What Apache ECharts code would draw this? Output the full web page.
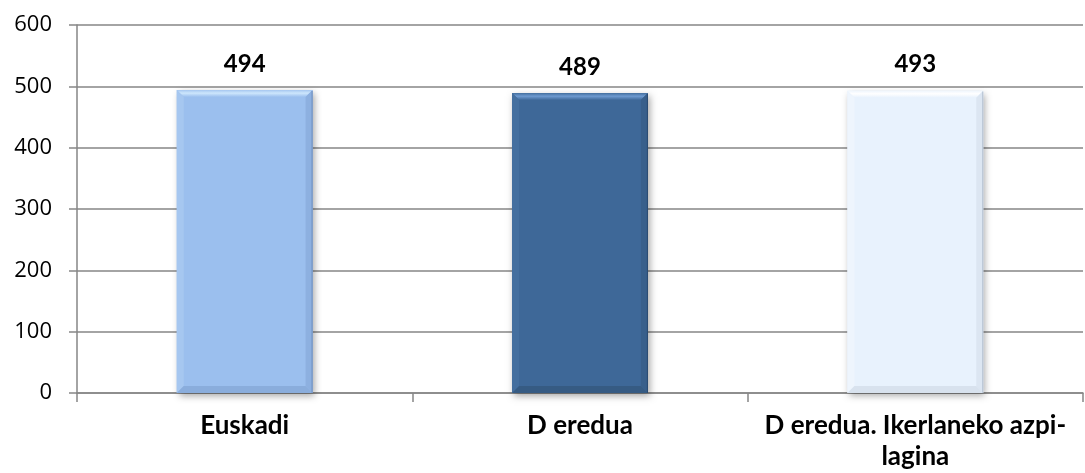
<!DOCTYPE html>
<html>
<head>
<meta charset="utf-8">
<script src="https://cdn.jsdelivr.net/npm/echarts@6/dist/echarts.min.js"></script>
<style>
  html, body { margin: 0; padding: 0; background: #fff; }
  #chart { width: 1085px; height: 473px; }
</style>
</head>
<body>
<div id="chart"></div>
<script>
// Categories and values
const categories = ['Euskadi', 'D eredua', 'D eredua. Ikerlaneko azpi-\nlagina'];
const values = [494, 489, 493];
const yTicks = [0, 100, 200, 300, 400, 500, 600];

// Bevelled bar palette: base, top/left highlight, right/bottom shade
const barColors = [
  { base: '#9BBFEE', light: '#CDE6FC', lightSide: '#A6C7F0', dark: '#8AADDC', darkSide: '#8DB0E0', edge: '#6F8FBC' },
  { base: '#3E6898', light: '#6E9AD0', lightSide: '#446F9F', dark: '#365B83', darkSide: '#385F8B', edge: '#2A4A70' },
  { base: '#E8F2FD', light: '#FFFFFF', lightSide: '#EEF5FD', dark: '#D8E2EE', darkSide: '#DCE6F2', edge: '#B3C0D0' }
];

const chart = echarts.init(document.getElementById('chart'), null, { renderer: 'canvas' });

function renderBar(params, api) {
  const idx = api.value(0);
  const val = api.value(1);
  const top = api.coord([idx, val]);
  const bottom = api.coord([idx, 0]);
  const w = api.size([1, 0])[0] * 0.405;
  const x0 = top[0] - w / 2, x1 = top[0] + w / 2;
  const y0 = top[1], y1 = bottom[1];
  const b = 7; // bevel depth
  const c = barColors[idx];
  return {
    type: 'group',
    children: [
      {
        type: 'rect',
        shape: { x: x0, y: y0, width: w, height: y1 - y0 },
        style: {
          fill: c.base,
          shadowBlur: 7, shadowOffsetX: 2, shadowOffsetY: 3,
          shadowColor: 'rgba(0,0,0,0.35)'
        }
      },
      { type: 'polygon', shape: { points: [[x0, y0], [x1, y0], [x1 - b, y0 + b], [x0 + b, y0 + b]] },
        style: { fill: new echarts.graphic.LinearGradient(0, 0, 0, 1, [
          { offset: 0, color: c.lightSide }, { offset: 0.45, color: c.light }, { offset: 1, color: c.base }]) } },
      { type: 'polygon', shape: { points: [[x0, y0], [x0 + b, y0 + b], [x0 + b, y1 - b], [x0, y1]] },
        style: { fill: c.lightSide } },
      { type: 'polygon', shape: { points: [[x1, y0], [x1, y1], [x1 - b, y1 - b], [x1 - b, y0 + b]] },
        style: { fill: c.darkSide } },
      { type: 'polygon', shape: { points: [[x0, y1], [x0 + b, y1 - b], [x1 - b, y1 - b], [x1, y1]] },
        style: { fill: c.dark } },
      { type: 'line', shape: { x1: x1 - 0.5, y1: y0 + 1, x2: x1 - 0.5, y2: y1 },
        style: { stroke: c.edge, lineWidth: 1 } },
      {
        type: 'text',
        style: {
          text: String(val),
          x: top[0], y: y0 - 26,
          align: 'center', verticalAlign: 'middle',
          font: 'bold 24px Lato, "Noto Sans", sans-serif',
          fill: '#000'
        }
      }
    ]
  };
}

chart.setOption({
  animation: false,
  grid: { left: 77, right: 2, top: 25, bottom: 80, containLabel: false },
  xAxis: {
    type: 'category',
    data: categories,
    boundaryGap: true,
    axisLine: { show: true, lineStyle: { color: '#868686', width: 1.5 } },
    axisTick: { show: true, length: 9, lineStyle: { color: '#868686', width: 1.5 } },
    axisLabel: {
      interval: 0, margin: 17, color: '#000',
      fontFamily: 'Lato, "Noto Sans", sans-serif', fontWeight: 'bold', fontSize: 26,
      lineHeight: 31
    }
  },
  yAxis: {
    type: 'value',
    min: yTicks[0], max: yTicks[yTicks.length - 1], interval: 100,
    axisLine: { show: true, lineStyle: { color: '#868686', width: 1.5 } },
    axisTick: { show: true, length: 8, lineStyle: { color: '#868686', width: 1.5 } },
    splitLine: { show: true, lineStyle: { color: '#868686', width: 1.5 } },
    axisLabel: {
      margin: 25, color: '#000',
      fontFamily: '"Open Sans", "Noto Sans", sans-serif', fontSize: 22
    }
  },
  series: [{
    type: 'custom',
    renderItem: renderBar,
    encode: { x: 0, y: 1 },
    data: values.map((v, i) => [i, v])
  }]
});
</script>
</body>
</html>
